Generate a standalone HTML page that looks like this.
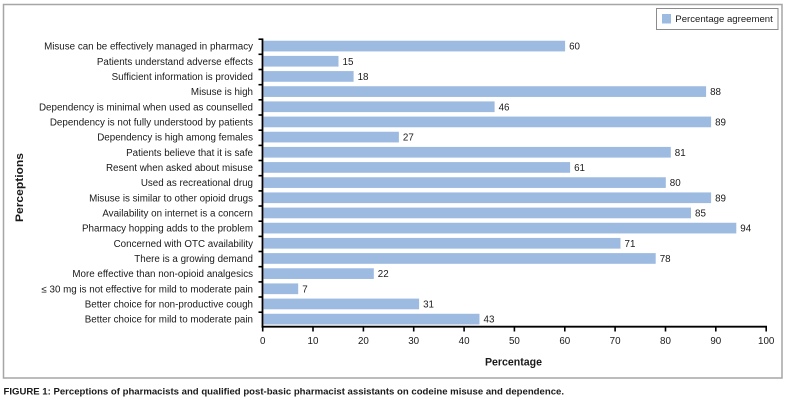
<!DOCTYPE html>
<html>
<head>
<meta charset="utf-8">
<style>
  html,body{margin:0;padding:0;background:#fff;}
  svg{display:block;}
  text{font-family:"Liberation Sans", Arial, sans-serif;fill:#1a1a1a;}
</style>
</head>
<body>
<svg width="790" height="409" viewBox="0 0 790 409" xmlns="http://www.w3.org/2000/svg">
  <rect x="0" y="0" width="790" height="409" fill="#fff"/>
  <!-- outer frame -->
  <rect x="3.5" y="4.5" width="778.5" height="373.5" fill="none" stroke="#a6a6a6" stroke-width="1.5"/>

  <!-- legend -->
  <rect x="656.5" y="8.5" width="121.5" height="21" fill="#fff" stroke="#8c8c8c" stroke-width="1"/>
  <rect x="662" y="14" width="9" height="9.5" fill="#9dbbe1"/>
  <text x="675.3" y="22" font-size="9.6" textLength="97.5" lengthAdjust="spacingAndGlyphs">Percentage agreement</text>

  <!-- bars -->
  <g fill="#9dbbe1">
    <rect x="263.5" y="40.73" width="301.6" height="10.7"/>
    <rect x="263.5" y="55.90" width="75.0" height="10.7"/>
    <rect x="263.5" y="71.07" width="90.1" height="10.7"/>
    <rect x="263.5" y="86.24" width="442.6" height="10.7"/>
    <rect x="263.5" y="101.41" width="231.1" height="10.7"/>
    <rect x="263.5" y="116.57" width="447.6" height="10.7"/>
    <rect x="263.5" y="131.74" width="135.4" height="10.7"/>
    <rect x="263.5" y="146.91" width="407.3" height="10.7"/>
    <rect x="263.5" y="162.08" width="306.6" height="10.7"/>
    <rect x="263.5" y="177.25" width="402.3" height="10.7"/>
    <rect x="263.5" y="192.42" width="447.6" height="10.7"/>
    <rect x="263.5" y="207.59" width="427.5" height="10.7"/>
    <rect x="263.5" y="222.76" width="472.8" height="10.7"/>
    <rect x="263.5" y="237.93" width="357.0" height="10.7"/>
    <rect x="263.5" y="253.10" width="392.2" height="10.7"/>
    <rect x="263.5" y="268.27" width="110.3" height="10.7"/>
    <rect x="263.5" y="283.43" width="34.7" height="10.7"/>
    <rect x="263.5" y="298.60" width="155.6" height="10.7"/>
    <rect x="263.5" y="313.77" width="216.0" height="10.7"/>
  </g>

  <!-- value labels -->
  <g font-size="9.8">
    <text x="569.1" y="49.6">60</text>
    <text x="342.5" y="64.8">15</text>
    <text x="357.6" y="79.9">18</text>
    <text x="710.1" y="95.1">88</text>
    <text x="498.6" y="110.3">46</text>
    <text x="715.1" y="125.4">89</text>
    <text x="402.9" y="140.6">27</text>
    <text x="674.8" y="155.8">81</text>
    <text x="574.1" y="170.9">61</text>
    <text x="669.8" y="186.1">80</text>
    <text x="715.1" y="201.3">89</text>
    <text x="695.0" y="216.4">85</text>
    <text x="740.3" y="231.6">94</text>
    <text x="624.5" y="246.8">71</text>
    <text x="659.7" y="262.0">78</text>
    <text x="377.8" y="277.1">22</text>
    <text x="302.2" y="292.3">7</text>
    <text x="423.1" y="307.5">31</text>
    <text x="483.5" y="322.6">43</text>
  </g>

  <!-- category labels -->
  <g font-size="9.8" text-anchor="end">
    <text x="253" y="49.6">Misuse can be effectively managed in pharmacy</text>
    <text x="253" y="64.8">Patients understand adverse effects</text>
    <text x="253" y="79.9">Sufficient information is provided</text>
    <text x="253" y="95.1">Misuse is high</text>
    <text x="253" y="110.3">Dependency is minimal when used as counselled</text>
    <text x="253" y="125.4">Dependency is not fully understood by patients</text>
    <text x="253" y="140.6">Dependency is high among females</text>
    <text x="253" y="155.8">Patients believe that it is safe</text>
    <text x="253" y="170.9">Resent when asked about misuse</text>
    <text x="253" y="186.1">Used as recreational drug</text>
    <text x="253" y="201.3">Misuse is similar to other opioid drugs</text>
    <text x="253" y="216.4">Availability on internet is a concern</text>
    <text x="253" y="231.6">Pharmacy hopping adds to the problem</text>
    <text x="253" y="246.8">Concerned with OTC availability</text>
    <text x="253" y="262.0">There is a growing demand</text>
    <text x="253" y="277.1">More effective than non-opioid analgesics</text>
    <text x="253" y="292.3">≤ 30 mg is not effective for mild to moderate pain</text>
    <text x="253" y="307.5">Better choice for non-productive cough</text>
    <text x="253" y="322.6">Better choice for mild to moderate pain</text>
  </g>

  <!-- axes -->
  <g stroke="#000" stroke-width="1.8" fill="none">
    <line x1="262.5" y1="38.5" x2="262.5" y2="327.6"/>
    <line x1="261.6" y1="326.7" x2="767" y2="326.7"/>
  </g>
  <!-- y ticks -->
  <g stroke="#000" stroke-width="1.6">
    <line x1="258.5" y1="39.2" x2="263" y2="39.2"/>
    <line x1="258.5" y1="54.3" x2="263" y2="54.3"/>
    <line x1="258.5" y1="69.5" x2="263" y2="69.5"/>
    <line x1="258.5" y1="84.7" x2="263" y2="84.7"/>
    <line x1="258.5" y1="99.8" x2="263" y2="99.8"/>
    <line x1="258.5" y1="115.0" x2="263" y2="115.0"/>
    <line x1="258.5" y1="130.2" x2="263" y2="130.2"/>
    <line x1="258.5" y1="145.4" x2="263" y2="145.4"/>
    <line x1="258.5" y1="160.5" x2="263" y2="160.5"/>
    <line x1="258.5" y1="175.7" x2="263" y2="175.7"/>
    <line x1="258.5" y1="190.9" x2="263" y2="190.9"/>
    <line x1="258.5" y1="206.0" x2="263" y2="206.0"/>
    <line x1="258.5" y1="221.2" x2="263" y2="221.2"/>
    <line x1="258.5" y1="236.4" x2="263" y2="236.4"/>
    <line x1="258.5" y1="251.5" x2="263" y2="251.5"/>
    <line x1="258.5" y1="266.7" x2="263" y2="266.7"/>
    <line x1="258.5" y1="281.9" x2="263" y2="281.9"/>
    <line x1="258.5" y1="297.0" x2="263" y2="297.0"/>
    <line x1="258.5" y1="312.2" x2="263" y2="312.2"/>
  </g>
  <!-- x ticks -->
  <g stroke="#000" stroke-width="1.6">
    <line x1="262.7" y1="326" x2="262.7" y2="331.5"/>
    <line x1="313.0" y1="326" x2="313.0" y2="331.5"/>
    <line x1="363.4" y1="326" x2="363.4" y2="331.5"/>
    <line x1="413.7" y1="326" x2="413.7" y2="331.5"/>
    <line x1="464.1" y1="326" x2="464.1" y2="331.5"/>
    <line x1="514.4" y1="326" x2="514.4" y2="331.5"/>
    <line x1="564.8" y1="326" x2="564.8" y2="331.5"/>
    <line x1="615.1" y1="326" x2="615.1" y2="331.5"/>
    <line x1="665.5" y1="326" x2="665.5" y2="331.5"/>
    <line x1="715.8" y1="326" x2="715.8" y2="331.5"/>
    <line x1="766.2" y1="326" x2="766.2" y2="331.5"/>
  </g>
  <!-- x tick labels -->
  <g font-size="9.8" text-anchor="middle">
    <text x="262.7" y="344.2">0</text>
    <text x="313.0" y="344.2">10</text>
    <text x="363.4" y="344.2">20</text>
    <text x="413.7" y="344.2">30</text>
    <text x="464.1" y="344.2">40</text>
    <text x="514.4" y="344.2">50</text>
    <text x="564.8" y="344.2">60</text>
    <text x="615.1" y="344.2">70</text>
    <text x="665.5" y="344.2">80</text>
    <text x="715.8" y="344.2">90</text>
    <text x="766.2" y="344.2">100</text>
  </g>

  <!-- axis titles -->
  <text x="485" y="365.5" font-size="10.8" font-weight="bold" textLength="57" lengthAdjust="spacingAndGlyphs">Percentage</text>
  <text transform="translate(23,222) rotate(-90)" x="0" y="0" font-size="10.8" font-weight="bold" textLength="69" lengthAdjust="spacingAndGlyphs">Perceptions</text>

  <!-- caption -->
  <text x="3.5" y="394.3" font-size="9.4" font-weight="bold" textLength="560.5" lengthAdjust="spacingAndGlyphs">FIGURE 1: Perceptions of pharmacists and qualified post-basic pharmacist assistants on codeine misuse and dependence.</text>
</svg>
</body>
</html>
